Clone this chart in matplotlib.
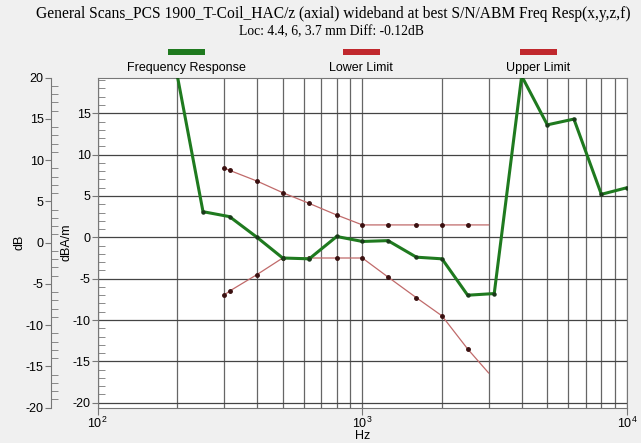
import numpy as np
import matplotlib.pyplot as plt
from matplotlib.patches import Rectangle
from matplotlib.ticker import MultipleLocator, FixedLocator, NullFormatter

# Frequency response (1/3 octave bands)
freq_resp_hz = [200, 250, 315, 400, 500, 630, 800, 1000, 1250, 1600, 2000,
                2500, 3150, 4000, 5000, 6300, 8000, 10000]
freq_resp_db = [19.5, 3.1, 2.5, 0.0, -2.5, -2.6, 0.1, -0.5, -0.4, -2.4, -2.6,
                -7.0, -6.8, 19.5, 13.6, 14.3, 5.2, 6.0]

# Limit masks
limit_hz = [300, 315, 400, 500, 630, 800, 1000, 1250, 1600, 2000, 2500, 3000]
lower_db = [-7.0, -6.5, -4.5, -2.5, -2.5, -2.5, -2.5, -4.8, -7.3, -9.5, -13.5, -16.4]
upper_db = [8.4, 8.1, 6.8, 5.4, 4.1, 2.7, 1.5, 1.5, 1.5, 1.5, 1.5, 1.5]

title = "General Scans_PCS 1900_T-Coil_HAC/z (axial) wideband at best S/N/ABM Freq Resp(x,y,z,f)"
subtitle = "Loc: 4.4, 6, 3.7 mm Diff: -0.12dB"
legend_labels = ["Frequency Response", "Lower Limit", "Upper Limit"]
legend_colors = ["#1f7a1f", "#c0282d", "#c0282d"]

plt.rcParams['font.family'] = ['Liberation Sans', 'DejaVu Sans']
plt.rcParams['font.size'] = 9
plt.rcParams['axes.unicode_minus'] = False

W, H = 641, 443
fig = plt.figure(figsize=(W / 100, H / 100), dpi=100, facecolor='#f0f0f0')

left, right, top, bottom = 97.7, 627, 77.7, 407.7
ax = fig.add_axes([left / W, 1 - bottom / H, (right - left) / W, (bottom - top) / H])
ax.set_facecolor('white')
ax.set_xscale('log')
ax.set_xlim(100, 10000)
ax.set_ylim(-20.6, 19.3)

# grid
ax.yaxis.set_major_locator(FixedLocator([-20, -15, -10, -5, 0, 5, 10, 15]))
ax.yaxis.set_minor_locator(MultipleLocator(1))
ax.grid(True, which='major', axis='y', color='#444444', lw=0.9)
ax.grid(True, which='both', axis='x', color='#666666', lw=0.9)
ax.xaxis.set_minor_formatter(NullFormatter())
ax.tick_params(axis='x', which='minor', length=0)
ax.tick_params(axis='x', which='major', length=5, direction='out', color='#777777', pad=1)
ax.tick_params(axis='y', which='major', length=4, direction='out', color='#777777', pad=1)
ax.tick_params(axis='y', which='minor', length=5, direction='in', color='#777777')
for s in ax.spines.values():
    s.set_color('#777777')
ax.set_axisbelow(True)

# data
ax.plot(freq_resp_hz, freq_resp_db, color='#1f7a1f', lw=2.2, marker='o',
        markersize=2.2, markerfacecolor='#1a3a1a', markeredgecolor='#1a3a1a',
        solid_joinstyle='round', zorder=3)
n = len(limit_hz)
ax.plot(limit_hz, lower_db, color='#c06a6a', lw=0.9, marker='o', markersize=2.5,
        markerfacecolor='#3a1010', markeredgecolor='#3a1010',
        markevery=list(range(n - 1)), zorder=2)
ax.plot(limit_hz, upper_db, color='#c06a6a', lw=0.9, marker='o', markersize=2.5,
        markerfacecolor='#3a1010', markeredgecolor='#3a1010',
        markevery=list(range(n - 1)), zorder=2)

ax.set_xlabel('Hz', labelpad=-1)
ax.set_ylabel('dBA/m', labelpad=0)
ax.yaxis.set_label_coords((72 - left) / (right - left), 0.5)

# outer dB axis
ax2 = ax.twinx()
ax2.set_ylim(-20, 20)
ax2.spines['right'].set_visible(False)
ax2.spines['top'].set_visible(False)
ax2.spines['bottom'].set_visible(False)
ax2.spines['left'].set_visible(True)
ax2.spines['left'].set_position(('axes', (50.7 - left) / (right - left)))
ax2.spines['left'].set_color('#777777')
ax2.yaxis.set_ticks_position('left')
ax2.yaxis.set_label_position('left')
ax2.yaxis.set_major_locator(MultipleLocator(5))
ax2.yaxis.set_minor_locator(MultipleLocator(1))
ax2.tick_params(axis='y', which='major', length=4, direction='out', color='#777777', pad=1)
ax2.tick_params(axis='y', which='minor', length=5, direction='in', color='#777777')
ax2.set_ylabel('dB')
ax2.yaxis.set_label_coords((25 - left) / (right - left), 0.5)

# title
fig.text(333 / W, 1 - 14 / H, title, ha='center', va='center',
         family=['Liberation Serif', 'DejaVu Serif'], fontsize=11.2)
fig.text(331 / W, 1 - 32 / H, subtitle, ha='center', va='center',
         family=['Liberation Serif', 'DejaVu Serif'], fontsize=9.8)

# legend
centers = [186, 361, 538]
for cx, lab, col in zip(centers, legend_labels, legend_colors):
    fig.add_artist(Rectangle(((cx - 18.5) / W, 1 - 54.5 / H), 37 / W, 5 / H,
                             transform=fig.transFigure, color=col, lw=0))
    fig.text(cx / W, 1 - 68 / H, lab, ha='center', va='center', fontsize=9)

fig.savefig('out.png', dpi=100, facecolor=fig.get_facecolor())
